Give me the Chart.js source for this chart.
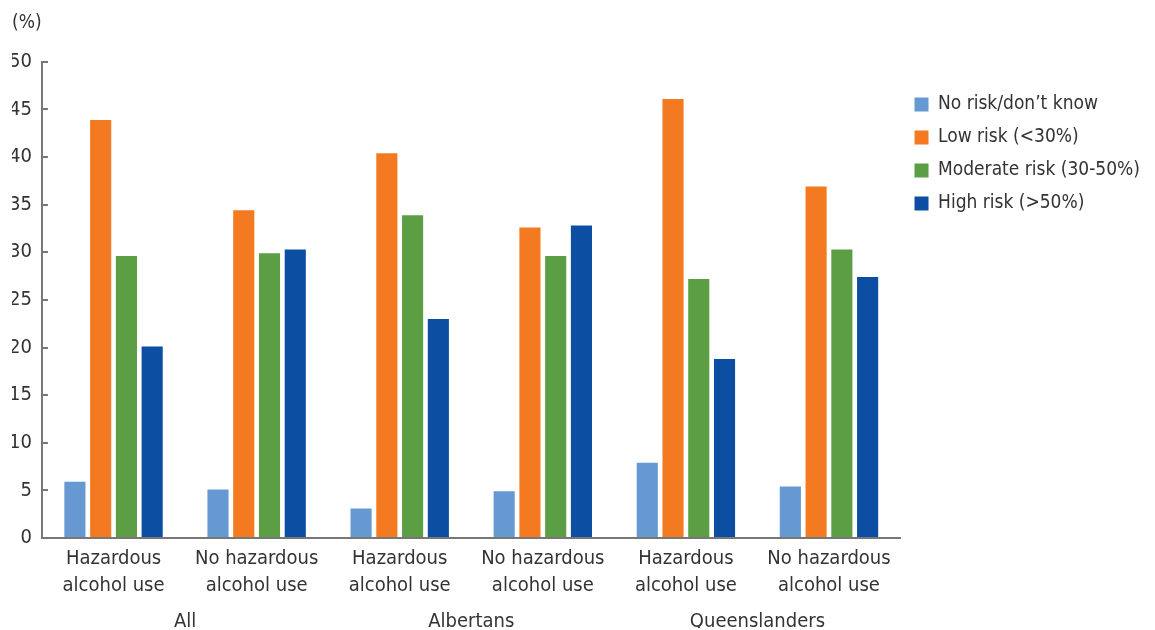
<!DOCTYPE html>
<html>
<head>
<meta charset="utf-8">
<script src="https://cdn.jsdelivr.net/npm/chart.js@4/dist/chart.umd.min.js"></script>
<style>
  html, body { margin: 0; padding: 0; background: #fff; }
  #wrap { width: 1155px; height: 630px; }
</style>
</head>
<body>
<div id="wrap"><canvas id="risk-chart"></canvas></div>
<script>
const $riskCtx = document.getElementById("risk-chart");

const FONT = "'Liberation Sans Narrow', 'DejaVu Sans Condensed', sans-serif";
const TEXT = "#333333";
const AXIS = "#777777";

const CATEGORIES = [
  ["Hazardous", "alcohol use"],
  ["No hazardous", "alcohol use"],
  ["Hazardous", "alcohol use"],
  ["No hazardous", "alcohol use"],
  ["Hazardous", "alcohol use"],
  ["No hazardous", "alcohol use"],
];
const GROUPS = ["All", "Albertans", "Queenslanders"];

const NO_RISK = [5.9, 5.1, 3.1, 4.9, 7.9, 5.4];
const LOW_RISK = [43.9, 34.4, 40.4, 32.6, 46.1, 36.9];
const MODERATE_RISK = [29.6, 29.9, 33.9, 29.6, 27.2, 30.3];
const HIGH_RISK = [20.1, 30.3, 23.0, 32.8, 18.8, 27.4];

const SERIES = [
  { label: "No risk/don\u2019t know", data: NO_RISK, color: "#6699D2" },
  { label: "Low risk (<30%)", data: LOW_RISK, color: "#F47A22" },
  { label: "Moderate risk (30-50%)", data: MODERATE_RISK, color: "#5C9E44" },
  { label: "High risk (>50%)", data: HIGH_RISK, color: "#0C4EA2" },
];

const data = {
  labels: CATEGORIES,
  datasets: SERIES.map((s) => ({
    label: s.label,
    data: s.data,
    backgroundColor: s.color,
    borderWidth: 0,
    categoryPercentage: 0.72,
    barPercentage: 0.82,
  })),
};

new Chart($riskCtx, {
  type: "bar",
  data,
  options: {
    responsive: true,
    maintainAspectRatio: false,
    animation: false,
    layout: {
      padding: { left: 12, right: 5, top: 0, bottom: 2 },
    },
    plugins: {
      tooltip: { enabled: false },
      title: {
        display: true,
        text: "(%)",
        align: "start",
        color: TEXT,
        font: { family: FONT, size: 19, weight: "normal" },
        padding: { top: 12, bottom: 27 },
      },
      legend: {
        position: "right",
        align: "start",
        // empty title only pushes the items down
        title: {
          display: true,
          text: " ",
          font: { size: 10 },
          padding: { top: 69, bottom: 0 },
        },
        labels: {
          color: TEXT,
          boxWidth: 14,
          boxHeight: 14,
          padding: 14,
          font: { family: FONT, size: 19 },
        },
      },
    },
    scales: {
      x: {
        grid: { display: false, drawTicks: false },
        border: { display: true, color: AXIS, width: 2 },
        ticks: {
          color: TEXT,
          padding: 7,
          font: { family: FONT, size: 20, lineHeight: 1.35 },
          maxRotation: 0,
        },
        afterFit: (scale) => {
          scale.height = 60;
        },
      },
      x2: {
        type: "category",
        labels: GROUPS,
        position: "bottom",
        grid: { display: false, drawTicks: false },
        border: { display: false },
        ticks: {
          color: TEXT,
          padding: 14,
          font: { family: FONT, size: 20, lineHeight: 1.0 },
          maxRotation: 0,
        },
        afterFit: (scale) => {
          scale.height = 30;
        },
      },
      y: {
        min: 0,
        max: 50,
        grid: {
          drawOnChartArea: false,
          color: AXIS,
          lineWidth: 2,
          tickLength: -6,
        },
        border: { display: true, color: AXIS, width: 2 },
        ticks: {
          stepSize: 5,
          color: TEXT,
          padding: 16,
          font: { family: FONT, size: 20 },
        },
        afterFit: (scale) => {
          scale.width = 30;
        },
      },
    },
  },
});
</script>
</body>
</html>
